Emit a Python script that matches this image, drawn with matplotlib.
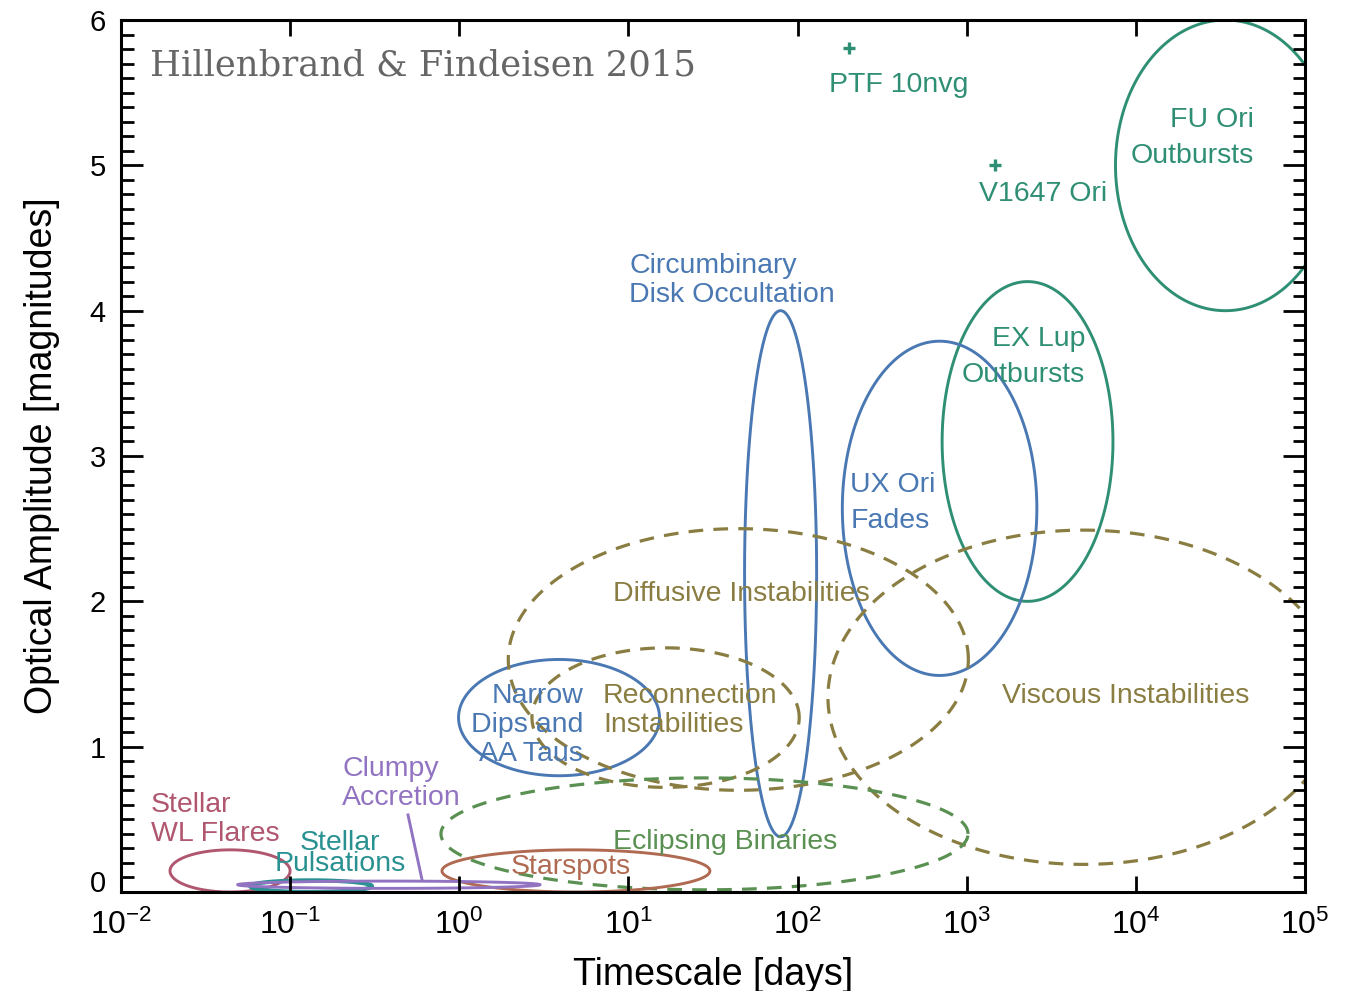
import numpy as np
import matplotlib
matplotlib.use('Agg')
import matplotlib.pyplot as plt
from matplotlib.ticker import FixedLocator, MultipleLocator, NullLocator, FuncFormatter

plt.rcParams['font.family'] = ['Liberation Sans', 'DejaVu Sans']
plt.rcParams['axes.unicode_minus'] = False

# regions of variability: centre / half size; timescale given in log10(days)
REGIONS = ['FU Ori', 'EX Lup', 'UX Ori', 'Circumbinary', 'Narrow Dips',
           'Diffusive', 'Reconnection', 'Viscous', 'Eclipsing', 'Starspots',
           'WL Flares', 'Pulsations', 'Clumpy']
LOG_T_CENTER = [4.53, 3.36, 2.84, 1.90, 0.59, 1.65, 1.22, 3.69, 1.45, 0.69, -1.355, -0.876, -0.416]
LOG_T_HALF = [0.65, 0.505, 0.575, 0.213, 0.594, 1.36, 0.79, 1.51, 1.558, 0.792, 0.355, 0.36, 0.894]
AMP_CENTER = [5.0, 3.1, 2.64, 2.19, 1.2, 1.6, 1.2, 1.34, 0.4, 0.145, 0.145, 0.04, 0.05]
AMP_HALF = [1.0, 1.1, 1.15, 1.81, 0.4, 0.9, 0.48, 1.15, 0.385, 0.145, 0.145, 0.04, 0.025]

# individual objects
POINT_NAMES = ['PTF 10nvg', 'V1647 Ori']
POINT_T = [202, 1475]
POINT_AMP = [5.81, 5.0]

X_TICKS = [1e-2, 1e-1, 1e0, 1e1, 1e2, 1e3, 1e4, 1e5]

TEAL = '#2f8f74'
BLUE = '#4a78b3'
OLIVE = '#8a7d42'
GREEN = '#5a9152'
BROWN = '#b06a52'
PINK = '#b0566f'
CYAN = '#2a9191'
PURPLE = '#9173c2'

STYLE = {
    'FU Ori': (TEAL, '-', 2.1),
    'EX Lup': (TEAL, '-', 2.1),
    'UX Ori': (BLUE, '-', 2.1),
    'Circumbinary': (BLUE, '-', 2.1),
    'Narrow Dips': (BLUE, '-', 2.1),
    'Diffusive': (OLIVE, '--', 2.3),
    'Reconnection': (OLIVE, '--', 2.3),
    'Viscous': (OLIVE, '--', 2.3),
    'Eclipsing': (GREEN, '--', 2.3),
    'Starspots': (BROWN, '-', 2.1),
    'WL Flares': (PINK, '-', 2.1),
    'Pulsations': (CYAN, '-', 3.0),
    'Clumpy': (PURPLE, '-', 2.1),
}

# text labels: (text, timescale, amplitude, ha, colour)
LABELS = [
    ('PTF 10nvg', 154, 5.55, 'left', TEAL),
    ('V1647 Ori', 1186, 4.80, 'left', TEAL),
    ('FU Ori', 50100, 5.31, 'right', TEAL),
    ('Outbursts', 50100, 5.062, 'right', TEAL),
    ('Circumbinary', 10.1, 4.305, 'left', BLUE),
    ('Disk Occultation', 10.1, 4.106, 'left', BLUE),
    ('EX Lup', 5023, 3.803, 'right', TEAL),
    ('Outbursts', 5023, 3.555, 'right', TEAL),
    ('UX Ori', 204.7, 2.798, 'left', BLUE),
    ('Fades', 204.7, 2.550, 'left', BLUE),
    ('Diffusive Instabilities', 8.11, 2.048, 'left', OLIVE),
    ('Narrow', 5.40, 1.346, 'right', BLUE),
    ('Dips and', 5.40, 1.146, 'right', BLUE),
    ('AA Taus', 5.40, 0.947, 'right', BLUE),
    ('Reconnection', 7.08, 1.346, 'left', OLIVE),
    ('Instabilities', 7.08, 1.146, 'left', OLIVE),
    ('Viscous Instabilities', 1622, 1.346, 'left', OLIVE),
    ('Eclipsing Binaries', 8.11, 0.341, 'left', GREEN),
    ('Starspots', 2.02, 0.169, 'left', BROWN),
    ('Stellar', 0.01503, 0.596, 'left', PINK),
    ('WL Flares', 0.01503, 0.396, 'left', PINK),
    ('Stellar', 0.197, 0.334, 'center', CYAN),
    ('Pulsations', 0.197, 0.190, 'center', CYAN),
    ('Clumpy', 0.2028, 0.843, 'left', PURPLE),
    ('Accretion', 0.2028, 0.644, 'left', PURPLE),
]

# leader from the Clumpy Accretion label down to its region
LEADER_T = [0.498, 0.603]
LEADER_AMP = [0.53, 0.083]

fig = plt.figure(figsize=(13.62, 9.91), dpi=100)
ax = fig.add_axes([0.0888, 0.0999, 0.8693, 0.8799])

t = np.linspace(0, 2 * np.pi, 720, endpoint=False)
for i, name in enumerate(REGIONS):
    color, ls, lw = STYLE[name]
    xs = 10 ** (LOG_T_CENTER[i] + LOG_T_HALF[i] * np.cos(t))
    ys = AMP_CENTER[i] + AMP_HALF[i] * np.sin(t)
    dash = (0, (4.6, 3.2)) if ls == '--' else '-'
    ax.fill(xs, ys, fill=False, edgecolor=color, lw=lw, linestyle=dash,
            joinstyle='round', capstyle='butt')

ax.plot(LEADER_T, LEADER_AMP, color=PURPLE, lw=2.1)
ax.plot(POINT_T, POINT_AMP, '+', color=TEAL, ms=8, mew=2.4, ls='none')

for text, x, y, ha, color in LABELS:
    ax.text(x, y, text, ha=ha, va='center', color=color, fontsize=20.5)

ax.text(0.01484, 5.69, 'Hillenbrand & Findeisen 2015', ha='left', va='center',
        color='#666666', fontsize=25.5, family=['DejaVu Serif'])

ax.set_xscale('log')
ax.set_xlim(1e-2, 1e5)
ax.set_ylim(0, 6)
ax.xaxis.set_major_locator(FixedLocator(X_TICKS))
ax.xaxis.set_minor_locator(NullLocator())
ax.yaxis.set_major_locator(MultipleLocator(1))
ax.yaxis.set_minor_locator(MultipleLocator(0.1))
# the "0" is drawn separately, a little above the corner, as in the original
ax.yaxis.set_major_formatter(FuncFormatter(lambda v, pos: '' if abs(v) < 1e-9 else f'{v:.0f}'))

ax.tick_params(axis='x', which='major', direction='in', length=11.5, width=2,
               top=True, labelsize=23, pad=13)
ax.tick_params(axis='y', which='major', direction='in', length=16, width=2,
               right=True, labelsize=21, pad=11)
ax.tick_params(axis='y', which='minor', direction='in', length=9, width=2, right=True)
for sp in ax.spines.values():
    sp.set_linewidth(2.2)

ax.annotate('0', xy=(0, 0), xycoords=ax.get_yaxis_transform(), xytext=(-11, 6),
            textcoords='offset points', ha='right', va='center', fontsize=21)

ax.set_xlabel('Timescale [days]', fontsize=27)
ax.set_ylabel('Optical Amplitude [magnitudes]', fontsize=27)
ax.xaxis.set_label_coords(0.5, -0.074)
ax.yaxis.set_label_coords(-0.0515, 0.5)

fig.savefig('out.png', dpi=100)
